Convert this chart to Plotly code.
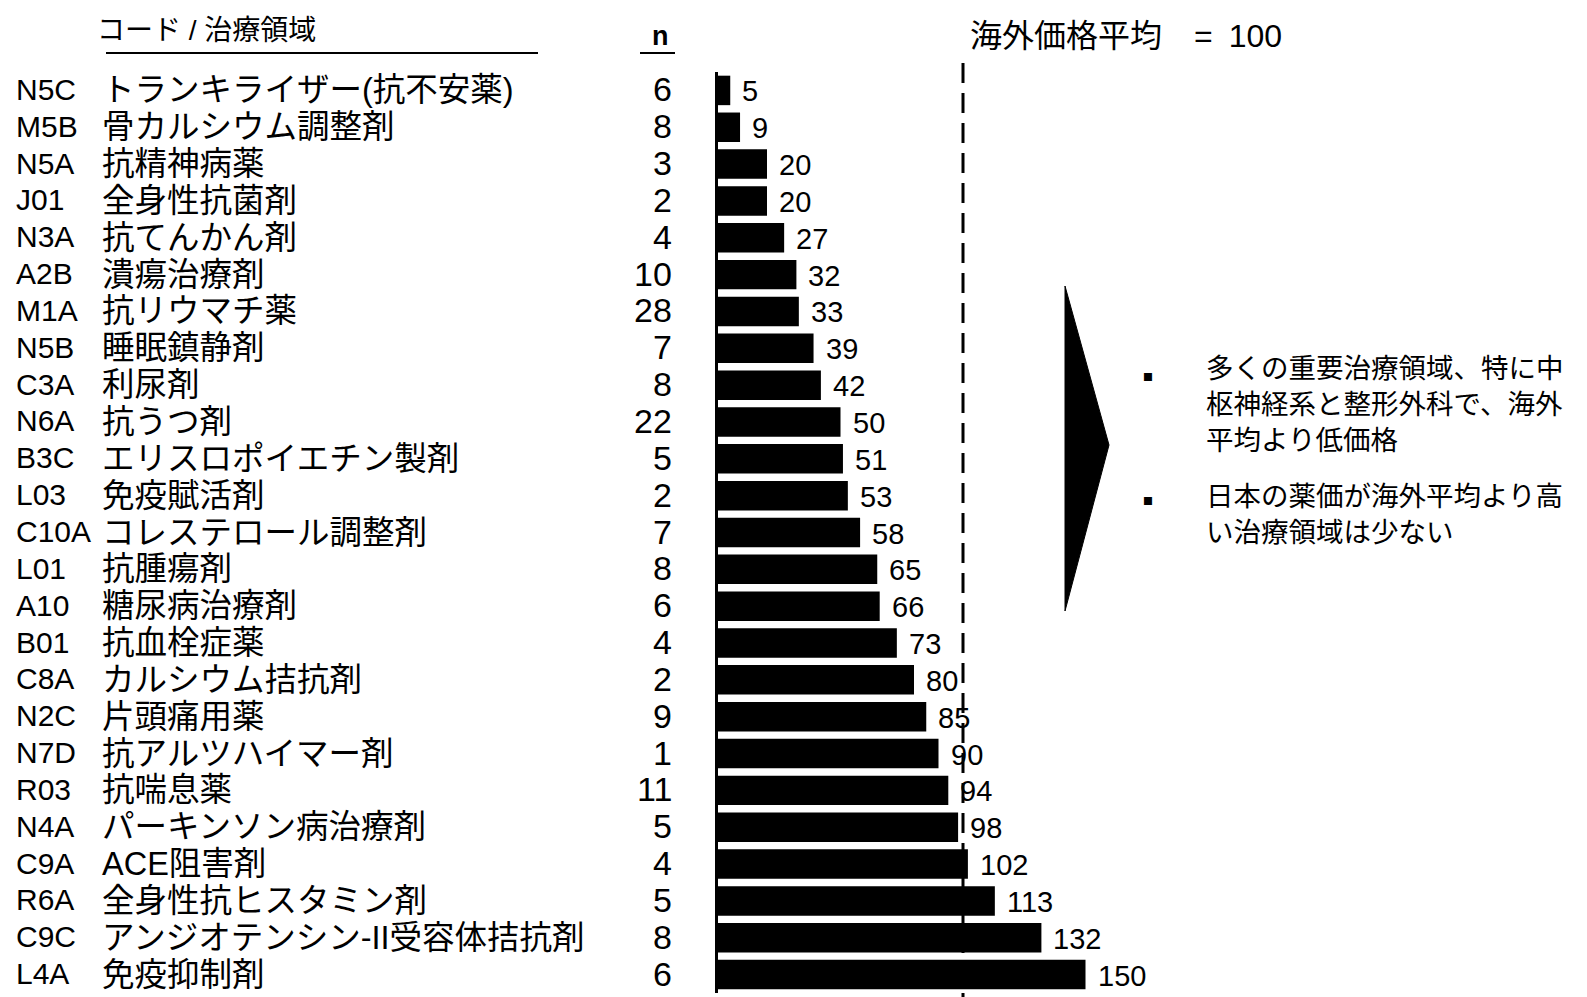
import plotly.graph_objects as go

codes = ["N5C", "M5B", "N5A", "J01", "N3A", "A2B", "M1A", "N5B", "C3A", "N6A",
         "B3C", "L03", "C10A", "L01", "A10", "B01", "C8A", "N2C", "N7D", "R03",
         "N4A", "C9A", "R6A", "C9C", "L4A"]
names = ["トランキライザー(抗不安薬)", "骨カルシウム調整剤", "抗精神病薬", "全身性抗菌剤",
         "抗てんかん剤", "潰瘍治療剤", "抗リウマチ薬", "睡眠鎮静剤", "利尿剤", "抗うつ剤",
         "エリスロポイエチン製剤", "免疫賦活剤", "コレステロール調整剤", "抗腫瘍剤",
         "糖尿病治療剤", "抗血栓症薬", "カルシウム拮抗剤", "片頭痛用薬", "抗アルツハイマー剤",
         "抗喘息薬", "パーキンソン病治療剤", "ACE阻害剤", "全身性抗ヒスタミン剤",
         "アンジオテンシン-II受容体拮抗剤", "免疫抑制剤"]
n_counts = [6, 8, 3, 2, 4, 10, 28, 7, 8, 22, 5, 2, 7, 8, 6, 4, 2, 9, 1, 11, 5, 4, 5, 8, 6]
values = [5, 9, 20, 20, 27, 32, 33, 39, 42, 50, 51, 53, 58, 65, 66, 73, 80, 85, 90, 94,
          98, 102, 113, 132, 150]
reference_value = 100
header_label = "コード / 治療領域"
n_label = "n"
title_text = "海外価格平均\u2003=\u2002100"
bullets = ["多くの重要治療領域、特に中<br>枢神経系と整形外科で、海外<br>平均より低価格",
           "日本の薬価が海外平均より高<br>い治療領域は少ない"]

W, H = 1587, 997


def px(x):
    return x / W


def py(y):
    return 1 - y / H


LAT = "Liberation Sans, Arial"
CJK = "Liberation Sans, Noto Sans CJK JP, sans-serif"

fig = go.Figure()
fig.add_trace(go.Bar(
    x=values, y=codes, orientation="h",
    marker=dict(color="black", line=dict(width=0)),
    width=0.8, hoverinfo="skip",
))

ann = []
for c, nm, n, v in zip(codes, names, n_counts, values):
    ann.append(dict(x=px(6), xref="paper", y=c, yref="y", text=c, showarrow=False,
                    xanchor="left", yanchor="middle", yshift=1,
                    font=dict(family=LAT, size=30, color="black")))
    ann.append(dict(x=px(92), xref="paper", y=c, yref="y", text=nm, showarrow=False,
                    xanchor="left", yanchor="middle", yshift=0,
                    font=dict(family=CJK, size=32.5, color="black")))
    ann.append(dict(x=px(666), xref="paper", y=c, yref="y", text=str(n), showarrow=False,
                    xanchor="right", yanchor="middle", yshift=1,
                    font=dict(family=LAT, size=34, color="black")))
    ann.append(dict(x=v, xref="x", y=c, yref="y", text=str(v), showarrow=False,
                    xanchor="left", yanchor="middle", xshift=10, yshift=-1,
                    font=dict(family=LAT, size=29, color="black")))

ann.append(dict(x=px(87), xref="paper", y=py(23), yref="paper", text=header_label,
                showarrow=False, xanchor="left", yanchor="middle",
                font=dict(family=CJK, size=28, color="black")))
ann.append(dict(x=px(652), xref="paper", y=py(28), yref="paper", text="<b>" + n_label + "</b>",
                showarrow=False, xanchor="center", yanchor="middle",
                font=dict(family=LAT, size=27, color="black")))
ann.append(dict(x=px(960), xref="paper", y=py(28), yref="paper", text=title_text,
                showarrow=False, xanchor="left", yanchor="middle",
                font=dict(family=CJK, size=32, color="black")))

bullet_y = [368, 493]
text_y = [396, 506]
for b, by, ty in zip(bullets, bullet_y, text_y):
    ann.append(dict(x=px(1140), xref="paper", y=py(by), yref="paper", text="■",
                    showarrow=False, xanchor="center", yanchor="middle",
                    font=dict(family="Noto Sans CJK JP", size=10, color="black")))
    ann.append(dict(x=px(1196), xref="paper", y=py(ty), yref="paper", text=b,
                    showarrow=False, xanchor="left", yanchor="middle", align="left",
                    font=dict(family=CJK, size=27.5, color="black")))

shapes = [
    dict(type="line", xref="x", yref="paper", x0=reference_value, x1=reference_value,
         y0=py(55), y1=0, line=dict(color="black", width=3, dash="20px,10px"), layer="below"),
    dict(type="line", xref="paper", yref="paper", x0=px(98), x1=px(530), y0=py(45), y1=py(45),
         line=dict(color="black", width=2)),
    dict(type="line", xref="paper", yref="paper", x0=px(632), x1=px(667), y0=py(45), y1=py(45),
         line=dict(color="black", width=2)),
    dict(type="path", xref="paper", yref="paper",
         path=f"M {px(1057)},{py(278)} L {px(1101)},{py(437)} L {px(1057)},{py(603)} Z",
         fillcolor="black", line=dict(color="black", width=1)),
]

fig.update_layout(
    width=W, height=H, autosize=False,
    margin=dict(l=0, r=0, t=0, b=0),
    paper_bgcolor="white", plot_bgcolor="white",
    showlegend=False,
    xaxis=dict(domain=[px(710), px(710 + 160 * 2.45)], range=[0, 160],
               showgrid=False, zeroline=False, showticklabels=False, ticks="",
               showline=False, fixedrange=True),
    yaxis=dict(domain=[py(985), py(64)], type="category", categoryorder="array",
               categoryarray=codes, range=[24.5, -0.5],
               showgrid=False, zeroline=False, showticklabels=False, ticks="",
               showline=True, linecolor="black", linewidth=3, fixedrange=True),
    annotations=ann, shapes=shapes,
)

fig.write_html("out.html")
